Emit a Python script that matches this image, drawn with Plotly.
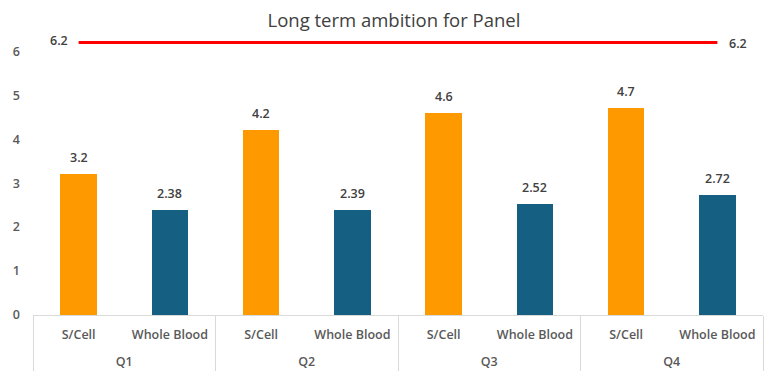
import plotly.graph_objects as go

# Quarterly results by sample type
quarters = ["Q1", "Q2", "Q3", "Q4"]
sample_types = ["S/Cell", "Whole Blood"]
scell_values = [3.2, 4.2, 4.6, 4.7]
whole_blood_values = [2.38, 2.39, 2.52, 2.72]
ambition_value = 6.2
y_ticks = [0, 1, 2, 3, 4, 5, 6]

# Interleave the two sample types so each quarter holds S/Cell then Whole Blood.
# The quarter labels get a leading line break so they sit lower under the
# sample-type row.
x_outer, x_inner, y_vals, colors = [], [], [], []
for q, s, w in zip(quarters, scell_values, whole_blood_values):
    x_outer += ["<br>" + q] * 2
    x_inner += sample_types
    y_vals += [s, w]
    colors += ["#FF9900", "#156082"]

FONT = "Open Sans"
label_font = dict(family=FONT, size=12.5, color="#404040", weight=600)
tick_font = dict(family=FONT, size=12.5, color="#595959", weight=600)

fig = go.Figure()
fig.add_trace(go.Bar(
    x=[x_outer, x_inner],
    y=y_vals,
    marker=dict(color=colors, line=dict(width=0)),
    width=0.4,
    hoverinfo="skip",
    showlegend=False,
))

# Long-term ambition line spanning first to last category
fig.add_trace(go.Scatter(
    x=[[x_outer[0], x_outer[-1]], [x_inner[0], x_inner[-1]]],
    y=[ambition_value, ambition_value],
    mode="lines",
    line=dict(color="#FF0000", width=3),
    cliponaxis=False,
    hoverinfo="skip",
    showlegend=False,
))

# Value labels above each bar
annotations = []
for i, v in enumerate(y_vals):
    annotations.append(dict(
        x=i, y=v, xref="x", yref="y", text=f"{v:g}", showarrow=False,
        xanchor="center", yanchor="bottom", yshift=6, font=label_font,
    ))

# Ambition value labels at both ends of the line
n_cats = len(y_vals)
annotations.append(dict(
    x=0, y=ambition_value, xref="x", yref="y", text=f"{ambition_value:g}",
    showarrow=False, xanchor="right", yanchor="middle", xshift=-9, yshift=2,
    font=label_font,
))
annotations.append(dict(
    x=n_cats - 1, y=ambition_value, xref="x", yref="y", text=f"{ambition_value:g}",
    showarrow=False, xanchor="left", yanchor="middle", xshift=10, yshift=-1,
    font=label_font,
))

fig.update_layout(
    width=765, height=376,
    margin=dict(l=33, r=2, t=25, b=61),
    paper_bgcolor="white", plot_bgcolor="white",
    title=dict(text="Long term ambition for Panel", x=0.515, xanchor="center",
               y=0.945, yanchor="middle",
               font=dict(family=FONT, size=18.5, color="#404040")),
    font=dict(family=FONT, size=12.5, color="#404040"),
    bargap=0,
    annotations=annotations,
)
fig.update_xaxes(
    type="multicategory",
    showline=True, linecolor="#D9D9D9", linewidth=1,
    showdividers=True, dividercolor="#D9D9D9", dividerwidth=1,
    tickfont=tick_font,
    showgrid=False, ticks="",
    ticklabelstandoff=8,
)
fig.update_yaxes(
    range=[0, 6.6],
    tickvals=y_ticks,
    showgrid=False, zeroline=False, showline=False,
    tickfont=tick_font,
    ticklabelstandoff=12,
)

fig.write_html("out.html")
